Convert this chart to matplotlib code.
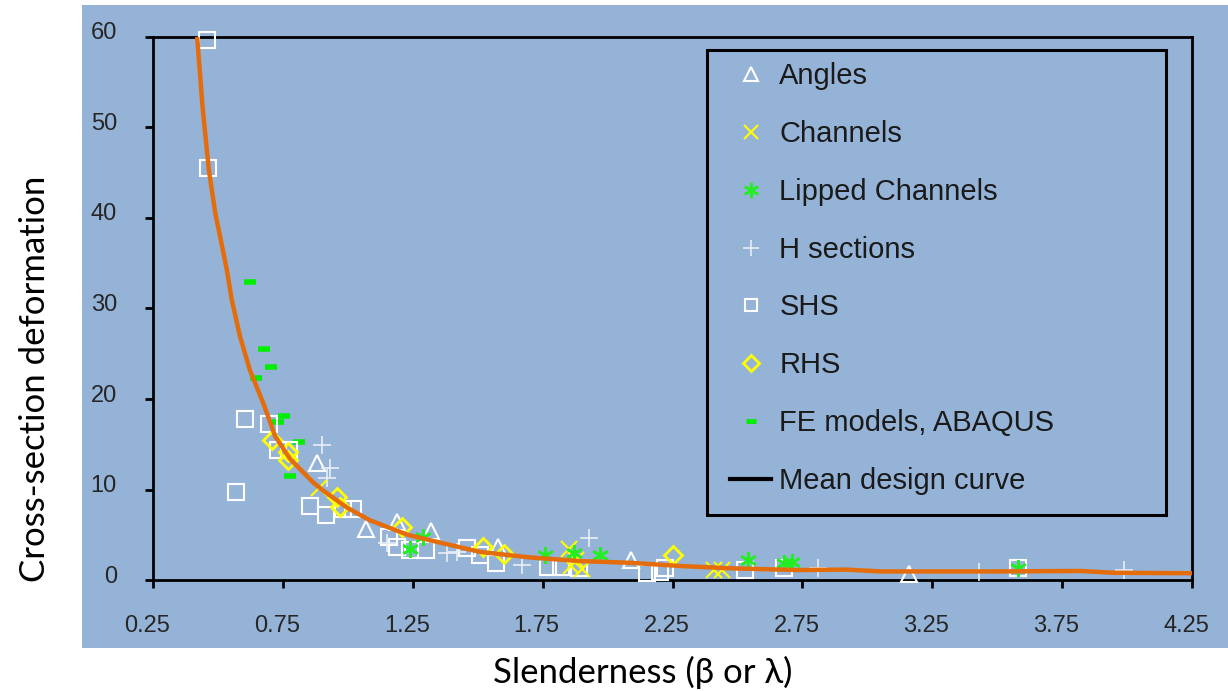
import matplotlib
matplotlib.use('Agg')
import matplotlib.pyplot as plt
from matplotlib.lines import Line2D
from matplotlib.patches import Rectangle
from matplotlib.transforms import ScaledTranslation

plt.rcParams['font.family'] = ['Liberation Sans', 'DejaVu Sans']

# --- values ---
angles_x = [0.88, 1.07, 1.19, 1.32, 1.58, 2.09, 3.16]
angles_y = [12.9, 5.6, 6.4, 5.4, 3.6, 2.2, 0.7]

channels_x = [0.89, 1.85, 1.88, 1.86, 1.90, 2.41, 2.44]
channels_y = [10.2, 3.4, 2.2, 1.5, 1.2, 1.1, 1.1]

lipped_x = [1.24, 1.29, 1.76, 1.87, 1.97, 2.54, 2.68, 2.71, 3.58]
lipped_y = [3.4, 4.8, 2.8, 3.0, 2.8, 2.2, 1.9, 2.0, 1.3]

hsec_x = [0.90, 0.93, 0.92, 1.15, 1.38, 1.42, 1.67, 1.93, 2.81, 3.43, 3.99]
hsec_y = [14.9, 12.4, 11.3, 4.1, 3.0, 3.1, 1.7, 4.6, 1.3, 0.9, 1.1]

shs_x = [0.458, 0.462, 0.569, 0.604, 0.697, 0.731, 0.773, 0.854, 0.916, 0.981, 1.02,
         1.16, 1.19, 1.24, 1.30, 1.46, 1.51, 1.57, 1.77, 1.82, 1.89, 2.15, 2.20,
         2.22, 2.53, 2.68, 3.58]
shs_y = [59.7, 45.5, 9.7, 17.8, 17.2, 14.4, 14.4, 8.2, 7.2, 7.8, 7.8,
         4.8, 3.6, 3.3, 3.3, 3.5, 2.8, 1.9, 1.4, 1.4, 1.3, 0.8, 0.9,
         1.3, 1.1, 1.3, 1.3]

rhs_x = [0.71, 0.77, 0.77, 0.96, 0.97, 1.21, 1.52, 1.60, 2.25]
rhs_y = [15.5, 14.2, 13.3, 9.2, 8.1, 5.9, 3.7, 2.9, 2.8]

fe_x = [0.623, 0.646, 0.677, 0.704, 0.731, 0.754, 0.777, 0.812]
fe_y = [32.9, 22.3, 25.5, 23.5, 17.5, 18.1, 11.5, 15.2]

curve_x = [0.42, 0.44, 0.465, 0.49, 0.515, 0.534, 0.553, 0.585, 0.623, 0.675, 0.72, 0.777,
           0.866, 0.904, 0.997, 1.085, 1.23, 1.36, 1.51, 1.70, 1.89, 2.09, 2.28, 2.47,
           2.73, 2.92, 3.05, 3.50, 3.82, 3.95, 4.25]
curve_y = [60, 52.5, 45.3, 40.5, 37.0, 34.3, 31.0, 26.9, 23.2, 19.5, 15.9, 13.4,
           10.8, 9.9, 8.0, 6.6, 5.0, 4.1, 3.1, 2.5, 2.1, 1.9, 1.55, 1.3,
           1.1, 1.15, 0.95, 0.95, 1.0, 0.8, 0.75]

xticks = [0.25, 0.75, 1.25, 1.75, 2.25, 2.75, 3.25, 3.75, 4.25]
yticks = [0, 10, 20, 30, 40, 50, 60]

bg = '#95B3D7'
orange = '#E46C0A'
yellow = '#FFFF00'
green = '#22EE22'
txt = '#262626'

fig = plt.figure(figsize=(12.28, 6.91), dpi=100)
fig.patch.set_facecolor('white')
fig.patches.append(Rectangle((0.0668, 0.0622), 0.9332, 0.9306, transform=fig.transFigure,
                             facecolor=bg, edgecolor='none', zorder=-10))

ax = fig.add_axes([0.1246, 0.1606, 0.8461, 0.7859])
ax.set_facecolor(bg)

ax.plot(fe_x, fe_y, ls='none', marker='_', ms=9, mew=4, color='#00EE00', zorder=3, clip_on=False)
ax.plot(shs_x, shs_y, ls='none', marker='s', ms=11, mfc='none', mec='white', mew=1.5, zorder=3, clip_on=False)
ax.plot(angles_x, angles_y, ls='none', marker='^', ms=12, mfc='none', mec='white', mew=1.5, zorder=3, clip_on=False)
ax.plot(hsec_x, hsec_y, ls='none', marker='+', ms=13, mew=1.2, color='#E8EEF6', zorder=3, clip_on=False)
ax.plot(rhs_x, rhs_y, ls='none', marker='D', ms=9, mfc='none', mec=yellow, mew=2, zorder=3, clip_on=False)
ax.plot(channels_x, channels_y, ls='none', marker='x', ms=11, mew=1.5, color=yellow, zorder=3, clip_on=False)
ax.plot(lipped_x, lipped_y, ls='none', marker=(6, 2, 0), ms=12, mew=1.8, color=green, zorder=3, clip_on=False)
ax.plot(curve_x, curve_y, color=orange, lw=3.2, zorder=4, solid_capstyle='butt')

ax.set_xlim(0.25, 4.25)
ax.set_ylim(0, 60)
ax.set_xticks(xticks)
ax.set_xticklabels(['%.2f' % t for t in xticks])
ax.set_yticks(yticks)
for s in ax.spines.values():
    s.set_linewidth(2)
    s.set_color('black')
ax.tick_params(axis='both', direction='out', length=6, width=2, labelsize=17,
               color='black', labelcolor=txt)
ax.tick_params(axis='x', pad=19)
ax.tick_params(axis='y', pad=20)
# labels in the source sit a little left of / above their ticks
for lab in ax.get_xticklabels():
    lab.set_transform(lab.get_transform() + ScaledTranslation(-0.06, 0, fig.dpi_scale_trans))
for lab in ax.get_yticklabels():
    lab.set_transform(lab.get_transform() + ScaledTranslation(0, 0.06, fig.dpi_scale_trans))

# legend box
ax.add_patch(Rectangle((0.533, 0.120), 0.442, 0.856, transform=ax.transAxes,
                       facecolor='none', edgecolor='black', lw=2.2, zorder=5))
handles = [
    Line2D([], [], ls='none', marker='^', ms=10, mfc='none', mec='white', mew=1.5),
    Line2D([], [], ls='none', marker='x', ms=10, mew=1.5, color=yellow),
    Line2D([], [], ls='none', marker=(6, 2, 0), ms=11, mew=1.8, color=green),
    Line2D([], [], ls='none', marker='+', ms=11, mew=1.2, color='#E8EEF6'),
    Line2D([], [], ls='none', marker='s', ms=9, mfc='none', mec='white', mew=1.5),
    Line2D([], [], ls='none', marker='D', ms=8, mfc='none', mec=yellow, mew=2),
    Line2D([], [], ls='none', marker='_', ms=7, mew=3.5, color='#00EE00'),
    Line2D([], [], color='black', lw=3),
]
labels = ['Angles', 'Channels', 'Lipped Channels', 'H sections', 'SHS', 'RHS',
          'FE models, ABAQUS', 'Mean design curve']
leg = ax.legend(handles, labels, loc='upper left', bbox_to_anchor=(0.555, 0.953), frameon=False,
                fontsize=21, borderaxespad=0, borderpad=0, handlelength=1.43, handletextpad=0.27,
                labelspacing=1.02)
for t in leg.get_texts():
    t.set_color('#1A1A1A')

fig.text(0.0285, 0.4515, 'Cross-section deformation', rotation=90, ha='center', va='center',
         fontsize=25, family=['Lato', 'DejaVu Sans'])
fig.text(0.5236, 0.0275, 'Slenderness (\u03b2 or \u03bb)', ha='center', va='center',
         fontsize=25, family=['Lato', 'DejaVu Sans'])

fig.savefig('out.png', dpi=100, facecolor='white')
